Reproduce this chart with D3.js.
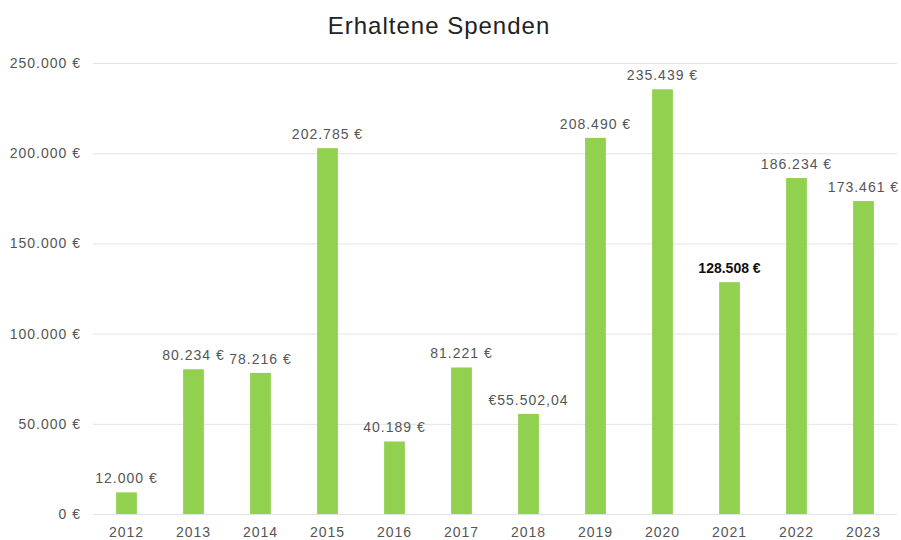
<!DOCTYPE html>
<head>
<meta charset="UTF-8">
<script src="https://cdn.jsdelivr.net/npm/d3@7"></script>
<style>
body { margin: 0; background: #fff; }
svg { display: block; font-family: "Liberation Sans", Arial, sans-serif; }
.grid line { stroke: #e3e3e3; stroke-width: 1px; }
.tick text { fill: #555; font-size: 14px; letter-spacing: 1px; }
.value { fill: #555; font-size: 14px; letter-spacing: 1px; text-anchor: middle; }
</style>
</head>
<body>
<script>

var years  = ["2012", "2013", "2014", "2015", "2016", "2017", "2018", "2019", "2020", "2021", "2022", "2023"];
var values = [12000, 80234, 78216, 202785, 40189, 81221, 55502.04, 208490, 235439, 128508, 186234, 173461];
var labels = ["12.000 €", "80.234 €", "78.216 €", "202.785 €", "40.189 €", "81.221 €", "€55.502,04",
              "208.490 €", "235.439 €", "128.508 €", "186.234 €", "173.461 €"];
var yTicks = [0, 50000, 100000, 150000, 200000, 250000];
var yTickLabels = ["0 €", "50.000 €", "100.000 €", "150.000 €", "200.000 €", "250.000 €"];

var width = 901, height = 540;
var plotLeft = 93, plotRight = 897, plotTop = 63, plotBottom = 514;

var svg = d3.select("body").append("svg")
    .attr("width", width)
    .attr("height", height);

svg.append("text")
    .attr("x", 439)
    .attr("y", 34)
    .attr("text-anchor", "middle")
    .attr("font-size", "24px")
    .attr("letter-spacing", "1px")
    .attr("fill", "#222")
    .text("Erhaltene Spenden");

var x = d3.scaleBand().domain(years).range([plotLeft, plotRight]).paddingInner(0.69).paddingOuter(0.345);
var y = d3.scaleLinear().domain([0, 250000]).range([plotBottom, plotTop]);

// gridlines + y labels
var yAxis = svg.append("g")
    .attr("class", "grid")
    .attr("transform", "translate(" + plotLeft + ",0)")
    .call(d3.axisLeft(y).tickValues(yTicks).tickSize(-(plotRight - plotLeft)).tickPadding(12)
        .tickFormat(function(d, i) { return yTickLabels[i]; }));
yAxis.select(".domain").remove();

var xAxis = svg.append("g")
    .attr("transform", "translate(0," + plotBottom + ")")
    .call(d3.axisBottom(x).tickSize(0).tickPadding(13));
xAxis.select(".domain").remove();

svg.selectAll(".bar")
    .data(values)
  .enter().append("rect")
    .attr("class", "bar")
    .attr("x", function(d, i) { return x(years[i]); })
    .attr("y", function(d) { return y(d); })
    .attr("width", x.bandwidth())
    .attr("height", function(d) { return y(0) - y(d); })
    .attr("fill", "#92d050");

svg.selectAll(".value")
    .data(values)
  .enter().append("text")
    .attr("class", "value")
    .attr("x", function(d, i) { return x(years[i]) + x.bandwidth() / 2; })
    .attr("y", function(d) { return y(d) - 9; })
    .attr("font-weight", function(d, i) { return years[i] == "2021" ? "bold" : null; })
    .style("fill", function(d, i) { return years[i] == "2021" ? "#111" : null; })
    .style("letter-spacing", function(d, i) { return years[i] == "2021" ? "0px" : null; })
    .text(function(d, i) { return labels[i]; });

</script>
</body>
